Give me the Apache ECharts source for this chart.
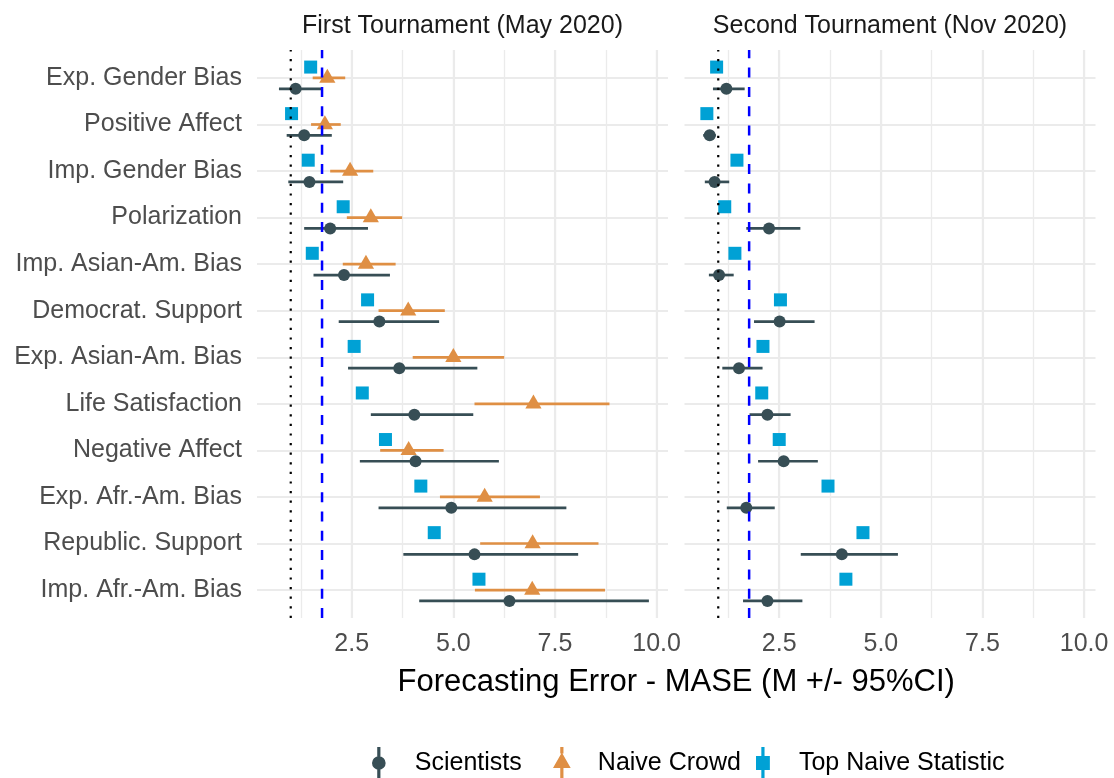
<!DOCTYPE html>
<html><head><meta charset="utf-8">
<script src="https://cdn.jsdelivr.net/npm/echarts@6/dist/echarts.min.js"></script>
<style>html,body{margin:0;padding:0;background:#fff}#c{width:1114px;height:778px}</style>
</head><body><div id="c"></div>
<script>
// ---------------- data ----------------
const categories = ['Exp. Gender Bias','Positive Affect','Imp. Gender Bias','Polarization','Imp. Asian-Am. Bias','Democrat. Support','Exp. Asian-Am. Bias','Life Satisfaction','Negative Affect','Exp. Afr.-Am. Bias','Republic. Support','Imp. Afr.-Am. Bias'];
const panelTitles = ['First Tournament (May 2020)', 'Second Tournament (Nov 2020)'];
const seriesNames = ['Scientists', 'Naive Crowd', 'Top Naive Statistic'];
const xTickLabels = [2.5, 5.0, 7.5, 10.0];

// First tournament (May 2020)
const sci1Mean = [1.12, 1.33, 1.46, 1.97, 2.31, 3.18, 3.67, 4.04, 4.07, 4.95, 5.52, 6.38];
const sci1Lo   = [0.71, 0.90, 0.94, 1.33, 1.56, 2.18, 2.41, 2.97, 2.70, 3.16, 3.77, 4.16];
const sci1Hi   = [1.77, 2.01, 2.29, 2.90, 3.44, 4.65, 5.59, 5.49, 6.12, 7.78, 8.07, 9.81];
const crowd1Mean = [1.90, 1.84, 2.46, 2.97, 2.85, 3.89, 5.00, 6.97, 3.90, 5.77, 6.95, 6.94];
const crowd1Lo   = [1.54, 1.50, 1.97, 2.38, 2.28, 3.16, 4.00, 5.52, 3.20, 4.67, 5.66, 5.53];
const crowd1Hi   = [2.34, 2.23, 3.03, 3.74, 3.58, 4.79, 6.25, 8.84, 4.76, 7.13, 8.57, 8.73];
const stat1 = [1.49, 1.02, 1.43, 2.29, 1.53, 2.89, 2.56, 2.76, 3.33, 4.20, 4.53, 5.63];

// Second tournament (Nov 2020)
const sci2Mean = [1.20, 0.79, 0.91, 2.25, 1.02, 2.51, 1.51, 2.21, 2.61, 1.69, 4.04, 2.21];
const sci2Lo   = [0.87, 0.63, 0.67, 1.69, 0.77, 1.88, 1.10, 1.77, 1.98, 1.21, 3.03, 1.61];
const sci2Hi   = [1.65, 0.94, 1.27, 3.02, 1.38, 3.37, 2.09, 2.78, 3.45, 2.39, 5.42, 3.07];
const stat2 = [0.96, 0.72, 1.46, 1.16, 1.41, 2.53, 2.10, 2.07, 2.50, 3.70, 4.56, 4.14];

// reference lines per panel
const naiveLine = [1.0, 1.0];        // dotted black
const benchmarkLine = [1.77, 1.76];  // dashed blue

// ---------------- layout / style ----------------
const FONT = '"Liberation Sans", Arial, sans-serif';
const COL = { sci: '#374E55', crowd: '#DF8F44', stat: '#00A1D5' };
const PANEL_TOP = 50, PANEL_BOTTOM = 618;
const X_LO = 0.17, X_HI = 10.28;
const PANEL_W = 411;
const PANEL_X = [257, 684.5];
const PXU = PANEL_W / (X_HI - X_LO);
const CAT_PAD = 0.6;
const nCat = categories.length;
const catStep = (PANEL_BOTTOM - PANEL_TOP) / (nCat - 1 + 2 * CAT_PAD);
const DODGE = 0.7 / 3;
const GRID_COL = '#EBEBEB';

function rangeData(mean, lo, hi) { return mean.map((m, i) => [m, i, lo[i], hi[i]]); }
function pointData(vals) { return vals.map((v, i) => [v, i]); }

function makeRender(shape, dodge, color, hasCI) {
  return function (params, api) {
    const cat = api.value(1);
    const p0 = api.coord([api.value(0), cat]);
    const p1 = api.coord([api.value(0), cat + 1]);
    const step = Math.abs(p1[1] - p0[1]) || catStep;
    const y = p0[1] + dodge * step;
    const cx = p0[0];
    const ch = [];
    if (hasCI) {
      const lo = api.coord([api.value(2), cat]);
      const hi = api.coord([api.value(3), cat]);
      ch.push({ type: 'line', shape: { x1: lo[0], y1: y, x2: hi[0], y2: y }, style: { stroke: color, lineWidth: 2.7 } });
    }
    if (shape === 'circle') {
      ch.push({ type: 'circle', shape: { cx: cx, cy: y, r: 6 }, style: { fill: color } });
    } else if (shape === 'triangle') {
      ch.push({ type: 'polygon', shape: { points: [[cx, y - 9.3], [cx - 8.1, y + 4.7], [cx + 8.1, y + 4.7]] }, style: { fill: color } });
    } else {
      ch.push({ type: 'rect', shape: { x: cx - 6.5, y: y - 6.5, width: 13, height: 13 }, style: { fill: color } });
    }
    return { type: 'group', children: ch };
  };
}

function refRender(color, width, dash) {
  return function (params, api) {
    const x = api.coord([api.value(0), 0.5])[0];
    const cs = params.coordSys;
    return { type: 'line', shape: { x1: x, y1: cs.y + cs.height, x2: x, y2: cs.y },
      style: { stroke: color, lineWidth: width, lineDash: dash } };
  };
}

const grids = [], xAxes = [], yAxes = [], series = [];
const panelData = [
  { sci: rangeData(sci1Mean, sci1Lo, sci1Hi), crowd: rangeData(crowd1Mean, crowd1Lo, crowd1Hi), stat: pointData(stat1) },
  { sci: rangeData(sci2Mean, sci2Lo, sci2Hi), crowd: null, stat: pointData(stat2) }
];

for (let p = 0; p < 2; p++) {
  grids.push({ left: PANEL_X[p] - X_LO * PXU, top: PANEL_TOP, width: X_HI * PXU, height: PANEL_BOTTOM - PANEL_TOP, outerBoundsMode: 'none', containLabel: false });
  grids.push({ left: PANEL_X[p], top: PANEL_TOP + CAT_PAD * catStep, width: PANEL_W, height: (nCat - 1) * catStep, outerBoundsMode: 'none', containLabel: false });
  const gB = 2 * p, gA = 2 * p + 1;
  xAxes.push({ gridIndex: gB, type: 'value', position: 'bottom', min: 0, max: X_HI, interval: 1.25,
    axisLine: { show: false }, axisTick: { show: false }, axisLabel: { show: false },
    splitLine: { show: true, showMinLine: false, showMaxLine: false, lineStyle: { color: GRID_COL, width: 1.3 } } });
  const xMajorIdx = xAxes.length;
  xAxes.push({ gridIndex: gB, type: 'value', position: 'bottom', min: 0, max: X_HI, interval: 2.5,
    axisLine: { show: false }, axisTick: { show: false },
    axisLabel: { show: true, fontSize: 25, fontFamily: FONT, color: '#4D4D4D', margin: 14, showMinLabel: false, showMaxLabel: true,
      formatter: function (v) { const hit = xTickLabels.find(t => Math.abs(t - v) < 1e-6); return hit !== undefined ? hit.toFixed(1) : ''; } },
    splitLine: { show: true, showMinLine: false, showMaxLine: false, lineStyle: { color: GRID_COL, width: 2.1 } } });
  const xAIdx = xAxes.length;
  xAxes.push({ gridIndex: gA, type: 'value', min: X_LO, max: X_HI, show: false });
  const yBIdx = yAxes.length;
  yAxes.push({ gridIndex: gB, type: 'value', min: 0, max: 1, show: false });
  const yAIdx = yAxes.length;
  yAxes.push({ gridIndex: gA, type: 'category', data: categories, inverse: true, boundaryGap: false,
    axisLine: { show: false }, axisTick: { show: false },
    axisLabel: { show: p === 0, interval: 0, fontSize: 25, fontFamily: FONT, color: '#4D4D4D', margin: 15 },
    splitLine: { show: true, lineStyle: { color: GRID_COL, width: 2.1 } } });

  const d = panelData[p];
  series.push({ type: 'custom', name: 'Top Naive Statistic', xAxisIndex: xAIdx, yAxisIndex: yAIdx, data: d.stat,
    encode: { x: 0, y: 1 }, clip: false, silent: true, itemStyle: { color: COL.stat }, z: 3,
    renderItem: makeRender('square', -DODGE, COL.stat, false) });
  if (d.crowd) {
    series.push({ type: 'custom', name: 'Naive Crowd', xAxisIndex: xAIdx, yAxisIndex: yAIdx, data: d.crowd,
      encode: { x: 0, y: 1 }, clip: false, silent: true, itemStyle: { color: COL.crowd }, z: 3,
      renderItem: makeRender('triangle', 0, COL.crowd, true) });
  }
  series.push({ type: 'custom', name: 'Scientists', xAxisIndex: xAIdx, yAxisIndex: yAIdx, data: d.sci,
    encode: { x: 0, y: 1 }, clip: false, silent: true, itemStyle: { color: COL.sci }, z: 3,
    renderItem: makeRender('circle', DODGE, COL.sci, true) });
  series.push({ type: 'custom', name: 'ref-dotted-' + p, xAxisIndex: xMajorIdx, yAxisIndex: yBIdx,
    data: [[naiveLine[p], 0.5]], encode: { x: 0, y: 1 }, clip: false, silent: true, z: 6,
    renderItem: refRender('#000000', 2.2, [2.2, 7.4]) });
  series.push({ type: 'custom', name: 'ref-dashed-' + p, xAxisIndex: xMajorIdx, yAxisIndex: yBIdx,
    data: [[benchmarkLine[p], 0.5]], encode: { x: 0, y: 1 }, clip: false, silent: true, z: 6,
    renderItem: refRender('#0000FF', 2.5, [10, 9.3]) });
}

const ICON_SCI = 'path://M5.5,0H8.5V9.5H5.5Z M5.5,20.5H8.5V30H5.5Z M0.6,15A6.4,6.4 0 1,1 13.4,15A6.4,6.4 0 1,1 0.6,15Z';
const ICON_CROWD = 'path://M5.5,0H8.5V6H5.5Z M5.5,19.7H8.5V30H5.5Z M7,5.2L15.3,19.7L-1.3,19.7Z';
const ICON_STAT = 'path://M5.5,0H8.5V8.5H5.5Z M5.5,21.5H8.5V30H5.5Z M0.5,8.5H13.5V21.5H0.5Z';
const legendLefts = [372, 553, 756];
const legendIcons = [ICON_SCI, ICON_CROWD, ICON_STAT];
const legends = seriesNames.map((nm, i) => ({
  data: [{ name: nm, icon: legendIcons[i] }], left: legendLefts[i], top: 747, padding: 0,
  itemWidth: 62, itemHeight: 32, itemGap: 0, selectedMode: false,
  itemStyle: { borderWidth: 0 },
  textStyle: { fontSize: 25, fontFamily: FONT, color: '#000000' }
}));

const chart = echarts.init(document.getElementById('c'), null, { renderer: 'canvas' });
chart.setOption({
  backgroundColor: '#ffffff',
  animation: false,
  textStyle: { fontFamily: FONT },
  grid: grids, xAxis: xAxes, yAxis: yAxes, series: series,
  legend: legends,
  graphic: [
    { type: 'text', x: (PANEL_X[0] + PANEL_X[0] + PANEL_W) / 2, y: 26,
      style: { text: panelTitles[0], font: '25px ' + FONT, fill: '#1A1A1A', align: 'center', verticalAlign: 'middle', textAlign: 'center', textVerticalAlign: 'middle' } },
    { type: 'text', x: (PANEL_X[1] + PANEL_X[1] + PANEL_W) / 2, y: 26,
      style: { text: panelTitles[1], font: '25px ' + FONT, fill: '#1A1A1A', align: 'center', verticalAlign: 'middle', textAlign: 'center', textVerticalAlign: 'middle' } },
    { type: 'text', x: (PANEL_X[0] + PANEL_X[1] + PANEL_W) / 2, y: 682,
      style: { text: 'Forecasting Error - MASE (M +/- 95%CI)', font: '31px ' + FONT, fill: '#000000', align: 'center', verticalAlign: 'middle', textAlign: 'center', textVerticalAlign: 'middle' } }
  ]
});
</script>
</body></html>
